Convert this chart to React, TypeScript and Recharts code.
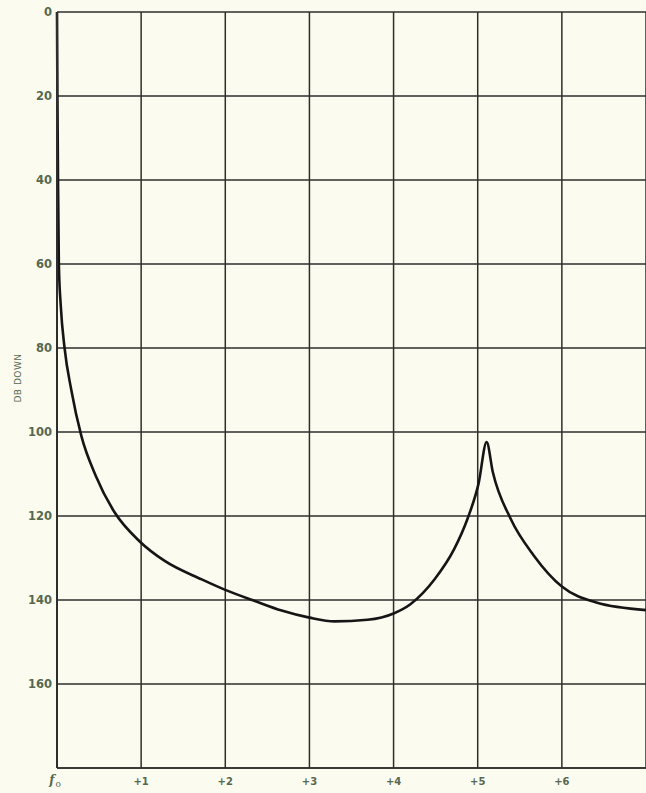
import React from 'react';
import { LineChart, Line, XAxis, YAxis, CartesianGrid } from 'recharts';

// frequency offset from f0, and attenuation in dB below the carrier
const freqOffset = [
  0, 0.005, 0.012, 0.022, 0.045, 0.09, 0.17, 0.29, 0.46, 0.68, 0.98, 1.28, 1.72,
  2.0, 2.36, 2.67, 3.0, 3.3, 3.69, 4.0, 4.2, 4.49, 4.72, 4.88, 5.01, 5.106, 5.18, 5.39,
  5.67, 6.0, 6.41, 7.0,
];
const dbDown = [
  0, 20, 40, 60, 70, 80, 90, 101, 110.4, 119.0, 126.0, 130.7, 135.1,
  137.6, 140.3, 142.5, 144.2, 145.1, 144.7, 143.2, 141.0, 135.0, 127.9, 120.6, 112.3, 102.4, 109.6, 120.6,
  129.5, 136.8, 140.6, 142.4,
];

const xTicks = [0, 1, 2, 3, 4, 5, 6, 7];
const xTickLabels = ['f', '+1', '+2', '+3', '+4', '+5', '+6', ''];
const yTicks = [0, 20, 40, 60, 80, 100, 120, 140, 160, 180];
const yTickLabels = ['0', '20', '40', '60', '80', '100', '120', '140', '160', ''];
const yAxisTitle = 'DB DOWN';

const data = freqOffset.map((f, i) => ({ f, db: dbDown[i] }));

const INK = '#2e2e2c';
const LABEL = '#56684f';

const FreqTick = ({ x, y, payload }: any) => {
  const idx = xTicks.indexOf(payload.value);
  const text = xTickLabels[idx];
  if (!text) return null;
  if (idx === 0) {
    // f with a small subscript o
    return (
      <text x={x - 2} y={y + 8} textAnchor="middle" fill={LABEL}
        style={{ fontFamily: 'DejaVu Serif', fontSize: 12, fontWeight: 700, fontStyle: 'italic' }}>
        f
        <tspan dx={1} dy={3} style={{ fontSize: 9, fontStyle: 'normal', fontWeight: 400 }}>o</tspan>
      </text>
    );
  }
  return (
    <text x={x} y={y + 9} textAnchor="middle" fill={LABEL}
      style={{ fontFamily: 'DejaVu Sans', fontSize: 10, fontWeight: 700 }}>
      {text}
    </text>
  );
};

const AxisTitle = () => (
  <text x={21} y={378} transform="rotate(-90 21 378)" textAnchor="middle" fill={LABEL}
    style={{ fontFamily: 'DejaVu Sans', fontSize: 9, letterSpacing: 0.5 }}>
    {yAxisTitle}
  </text>
);

export default function App() {
  return (
    <div style={{ position: 'absolute', left: 0, top: 0, width: 646, height: 793, background: '#fbfbf0', overflow: 'hidden' }}>
      <LineChart width={646} height={793} data={data} margin={{ top: 12, right: 0, bottom: 0, left: 0 }}>
        <CartesianGrid stroke={INK} strokeWidth={1.5} />
        <XAxis
          dataKey="f"
          type="number"
          domain={[0, 7]}
          ticks={xTicks}
          height={25}
          interval={0}
          tickLine={false}
          axisLine={{ stroke: INK, strokeWidth: 1.5 }}
          tick={<FreqTick />}
        />
        <YAxis
          type="number"
          reversed
          domain={[0, 180]}
          ticks={yTicks}
          width={57}
          interval={0}
          tickLine={false}
          tickSize={0}
          tickMargin={5}
          axisLine={{ stroke: INK, strokeWidth: 2 }}
          tickFormatter={(v: number) => yTickLabels[yTicks.indexOf(v)]}
          tick={{ fill: LABEL, fontSize: 11.5, fontWeight: 700, fontFamily: 'DejaVu Sans' }}
          label={<AxisTitle />}
        />
        <Line
          type="monotone"
          dataKey="db"
          stroke="#151515"
          strokeWidth={2.6}
          dot={false}
          isAnimationActive={false}
        />
      </LineChart>
    </div>
  );
}
